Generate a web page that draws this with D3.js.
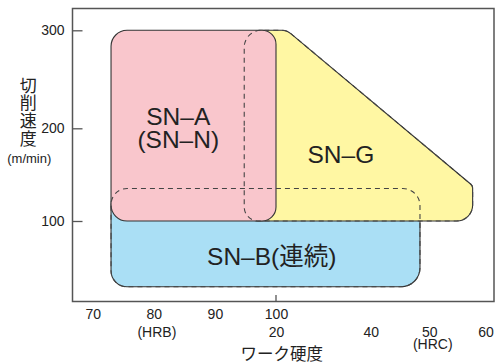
<!DOCTYPE html>
<html><head><meta charset="utf-8">
<script src="https://cdn.jsdelivr.net/npm/d3@7/dist/d3.min.js"></script>
<style>
html,body{margin:0;padding:0;background:#fff;}
svg{display:block;}
text{fill:#222;}
</style></head>
<body>
<svg id="c" width="496" height="363"></svg>
<script>
// ---- data ----
const speedTicks = [100, 200, 300];          // 切削速度 (m/min)
const hrbTicks = [70, 80, 90, 100];          // HRB
const hrcTicks = [20, 40, 50, 60];           // HRC
const hrcAsHrb = [100, 115.5, 125.1, 134.3]; // HRC tick positions on the extended HRB axis
const regionNames = ["SN–B", "SN–G", "SN–A"];
// outlines: [unit, hardness, speed]
const snBOutline = [["B", 73, 135], ["C", 48.4, 135], ["C", 48.4, 29], ["B", 73, 29]];
const snGOutline = [["B", 94.8, 300], ["C", 22.3, 300], ["C", 57.7, 138], ["C", 57.7, 100], ["B", 94.8, 100]];
const snAOutline = [["B", 73, 300], ["B", 100, 300], ["B", 100, 100], ["B", 73, 100]];

// ---- layout ----
const svg = d3.select("#c");
const frame = {l: 72.5, t: 8.5, r: 494, b: 301.5};
const xB = d3.scaleLinear().domain([70, 100]).range([92.7, 276]);
const hrcToHrb = d3.scaleLinear().domain(hrcTicks).range(hrcAsHrb);
const xC = v => xB(hrcToHrb(v));
const y = d3.scaleLinear().domain(speedTicks).range([221, 128.3, 30.3]);
const px = p => [p[0] === "B" ? xB(p[1]) : xC(p[1]), y(p[2])];

function rounded(points, radii) {
  const pts = points.map(px);
  const n = pts.length;
  const p = d3.path();
  const m = [(pts[n-1][0] + pts[0][0]) / 2, (pts[n-1][1] + pts[0][1]) / 2];
  p.moveTo(m[0], m[1]);
  for (let i = 0; i < n; i++) {
    const a = pts[i], b = pts[(i + 1) % n];
    p.arcTo(a[0], a[1], b[0], b[1], radii[i]);
  }
  p.closePath();
  return p.toString();
}

const fonts = "'Liberation Sans', Arial, 'Noto Sans CJK JP', sans-serif";
const cjk = "'Noto Sans CJK JP', sans-serif";

const dB = rounded(snBOutline, [16, 17, 19, 16]);
const dG = rounded(snGOutline, [17, 14, 5, 16, 14]);
const dA = rounded(snAOutline, [16, 14, 14, 16]);

const stroke = "#333";
svg.append("path").attr("d", dB).attr("fill", "#aadff5").attr("stroke", stroke).attr("stroke-width", 1.1);
svg.append("path").attr("d", dG).attr("fill", "#fff7a3").attr("stroke", stroke).attr("stroke-width", 1.1);
svg.append("path").attr("d", dA).attr("fill", "#f9c6cc").attr("stroke", stroke).attr("stroke-width", 1.1);
[dB, dG].forEach(d => svg.append("path").attr("d", d).attr("fill", "none")
  .attr("stroke", "#444").attr("stroke-width", 1.1).attr("stroke-dasharray", "5,4"));

// frame
svg.append("rect").attr("x", frame.l).attr("y", frame.t)
  .attr("width", frame.r - frame.l).attr("height", frame.b - frame.t)
  .attr("fill", "none").attr("stroke", "#555").attr("stroke-width", 1.5);

// y axis
const ya = svg.append("g").attr("transform", `translate(${frame.l},0)`)
  .call(d3.axisLeft(y).tickValues(speedTicks).tickSize(-10).tickPadding(8));
ya.select(".domain").remove();
ya.selectAll("line").attr("stroke", "#555").attr("stroke-width", 1.3);
ya.selectAll("text").attr("font-size", 14).attr("font-family", fonts).attr("fill", "#222");

// x axis HRB
const xa = svg.append("g").attr("transform", `translate(0,${frame.b})`)
  .call(d3.axisBottom(xB).tickValues(hrbTicks).tickSize(0).tickPadding(7.5));
xa.select(".domain").remove();
xa.selectAll("text").attr("font-size", 14).attr("font-family", fonts).attr("fill", "#222");

// x axis HRC
const xc = svg.append("g").attr("transform", `translate(0,${frame.b})`)
  .call(d3.axisBottom(d3.scaleLinear().domain(hrcTicks).range(hrcAsHrb.map(xB)))
    .tickValues(hrcTicks).tickSize(0).tickPadding(26));
xc.select(".domain").remove();
xc.selectAll("text").attr("font-size", 14).attr("font-family", fonts).attr("fill", "#222");
svg.append("line").attr("x1", xC(20)).attr("x2", xC(20))
  .attr("y1", frame.b).attr("y2", frame.b - 6.5).attr("stroke", "#555").attr("stroke-width", 1.3);

svg.append("text").attr("x", xB(80.5)).attr("y", 337).attr("text-anchor", "middle")
  .attr("font-size", 14).attr("font-family", fonts).text("(HRB)");
svg.append("text").attr("x", xC(50.6)).attr("y", 348.5).attr("text-anchor", "middle")
  .attr("font-size", 14).attr("font-family", fonts).text("(HRC)");

// axis titles
svg.append("text").attr("x", 281.7).attr("y", 359.5).attr("text-anchor", "middle")
  .attr("font-size", 16.5).attr("font-family", cjk).text("ワーク硬度");
["切", "削", "速", "度"].forEach((ch, i) =>
  svg.append("text").attr("text-anchor", "middle").attr("font-size", 17).attr("font-family", cjk)
    .attr("x", 28.3).attr("y", 91.5 + i * 17.7).text(ch));
svg.append("text").attr("x", 29.3).attr("y", 162.5).attr("text-anchor", "middle")
  .attr("font-size", 13).attr("font-family", fonts).text("(m/min)");

// region labels
const big = 24.5;
svg.append("text").attr("x", xB(84)).attr("y", y(203.4)).attr("text-anchor", "middle")
  .attr("font-size", big).attr("font-family", fonts).text(regionNames[2]);
svg.append("text").attr("x", xB(84)).attr("y", y(203.4) + 23).attr("text-anchor", "middle")
  .attr("font-size", big).attr("font-family", fonts).text("(SN–N)");
svg.append("text").attr("x", xC(33.7)).attr("y", y(162.2)).attr("text-anchor", "middle")
  .attr("font-size", big).attr("font-family", fonts).text(regionNames[1]);
svg.append("text").attr("x", xB(99.3)).attr("y", y(52.5)).attr("text-anchor", "middle")
  .attr("font-size", big).attr("font-family", fonts).text(regionNames[0] + "(連続)");
</script>
</body></html>
